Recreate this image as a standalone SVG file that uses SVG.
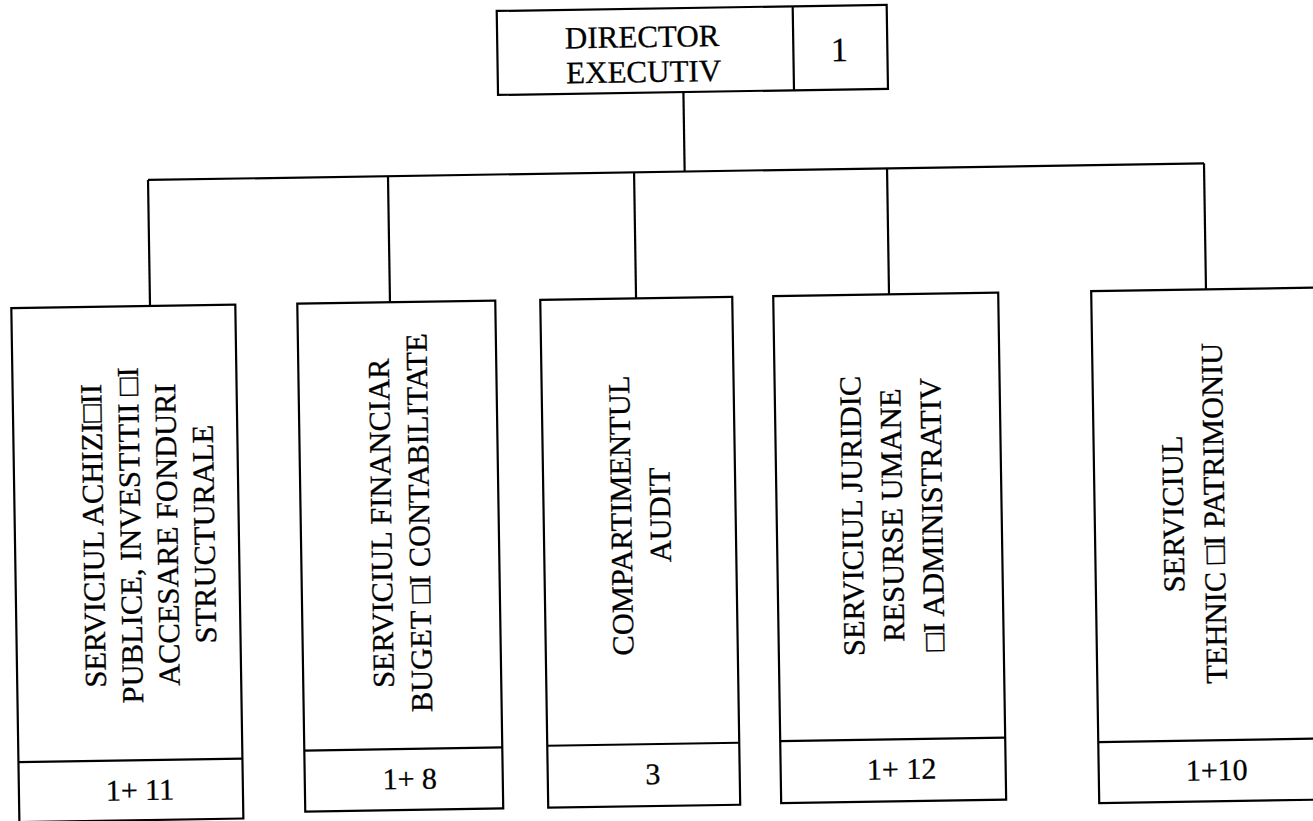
<svg xmlns="http://www.w3.org/2000/svg" width="1313" height="821" viewBox="0 0 1313 821">
<style>
.box{fill:none;stroke:#000;stroke-width:2.2}
.ln{fill:none;stroke:#000;stroke-width:2.2}
text{font-family:"Liberation Serif","Times New Roman",serif;fill:#000;stroke:#000;stroke-width:0.3}
.h{font-size:31px;text-anchor:middle}
.v{font-size:30.5px;text-anchor:middle}
.n{font-size:30px;text-anchor:middle}
.one{font-size:34px;text-anchor:middle}
</style>
<rect width="1313" height="821" fill="#fff"/>
<g transform="rotate(-0.9 656 410)">
<g id="connectors">
<line class="ln" x1="688.4" y1="92.5" x2="688.4" y2="172"/>
<line class="ln" x1="151.7" y1="172" x2="1207.8" y2="172"/>
<line class="ln" x1="151.7" y1="172" x2="151.7" y2="298"/>
<line class="ln" x1="391.7" y1="172" x2="391.7" y2="298"/>
<line class="ln" x1="637.8" y1="172" x2="637.8" y2="298"/>
<line class="ln" x1="890.8" y1="172" x2="890.8" y2="298"/>
<line class="ln" x1="1207.8" y1="172" x2="1207.8" y2="298"/>
</g>
<g id="director">
<rect class="box" x="503" y="8.5" width="390" height="84"/>
<line class="ln" x1="799" y1="8.5" x2="799" y2="92.5"/>
<text class="h" x="648" y="47">DIRECTOR</text>
<text class="h" x="649" y="82">EXECUTIV</text>
<text class="one" x="845" y="64">1</text>
</g>
<g id="achizitii">
<rect class="box" x="13" y="298" width="224" height="514"/>
<line class="ln" x1="13" y1="752" x2="237" y2="752"/>
<text class="v" transform="translate(101.6 527) rotate(-90)">SERVICIUL ACHIZI□II</text>
<text class="v" transform="translate(138.6 527) rotate(-90)">PUBLICE, INVESTITII □I</text>
<text class="v" transform="translate(175.6 527) rotate(-90)">ACCESARE FONDURI</text>
<text class="v" transform="translate(212.6 527) rotate(-90)">STRUCTURALE</text>
<text class="n" x="134" y="792">1+ 11</text>
</g>
<g id="financiar">
<rect class="box" x="299" y="298" width="198" height="508"/>
<line class="ln" x1="299" y1="745" x2="497" y2="745"/>
<text class="v" transform="translate(389.6 519) rotate(-90)">SERVICIUL FINANCIAR</text>
<text class="v" transform="translate(427.6 519) rotate(-90)">BUGET □I CONTABILITATE</text>
<text class="n" x="404" y="785">1+ 8</text>
</g>
<g id="audit">
<rect class="box" x="542" y="298" width="192" height="508"/>
<line class="ln" x1="542" y1="744" x2="734" y2="744"/>
<text class="v" transform="translate(629.6 515) rotate(-90)">COMPARTIMENTUL</text>
<text class="v" transform="translate(668.6 515) rotate(-90)">AUDIT</text>
<text class="n" x="647" y="784">3</text>
</g>
<g id="juridic">
<rect class="box" x="775" y="298" width="225" height="507"/>
<line class="ln" x1="775" y1="743" x2="1000" y2="743"/>
<text class="v" transform="translate(860.6 519) rotate(-90)">SERVICIUL JURIDIC</text>
<text class="v" transform="translate(900.6 519) rotate(-90)">RESURSE UMANE</text>
<text class="v" transform="translate(940.6 519) rotate(-90)">□I ADMINISTRATIV</text>
<text class="n" x="896" y="783">1+ 12</text>
</g>
<g id="tehnic">
<rect class="box" x="1093" y="298" width="240" height="512"/>
<line class="ln" x1="1093" y1="749" x2="1333" y2="749"/>
<text class="v" transform="translate(1181.6 522) rotate(-90)">SERVICIUL</text>
<text class="v" transform="translate(1222.6 522) rotate(-90)">TEHNIC □I PATRIMONIU</text>
<text class="n" x="1211" y="789">1+10</text>
</g>
</g>
</svg>
